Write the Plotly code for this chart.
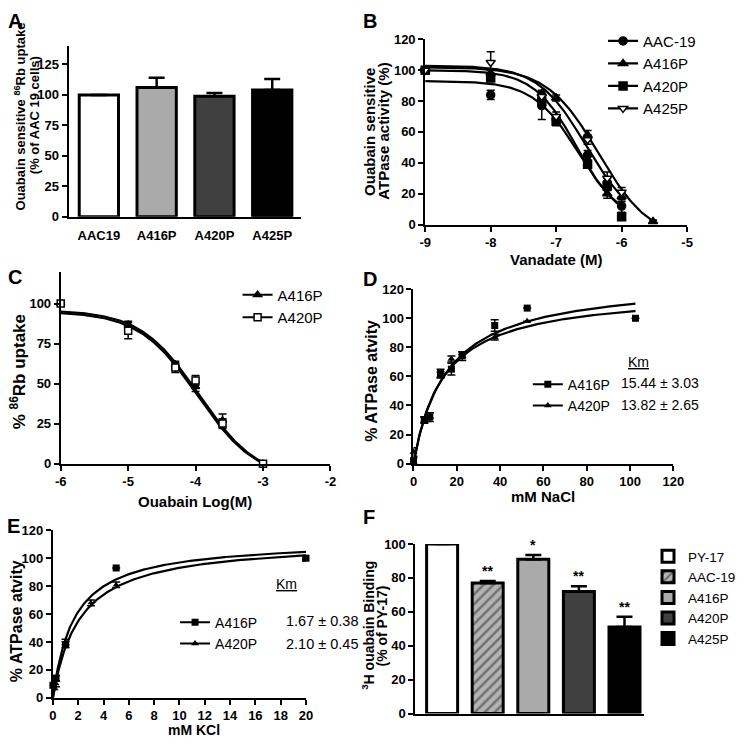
import numpy as np
import plotly.graph_objects as go

W, H = 745, 746
FONT = "Liberation Sans"

# ---------------- Panel A ----------------
a_cats = ["AAC19", "A416P", "A420P", "A425P"]
a_vals = [100, 106, 99, 104]
a_errs = [0, 8, 2.5, 9]
a_colors = ["#ffffff", "#aaaaaa", "#404040", "#000000"]
a_yticks = [0, 25, 50, 75, 100, 125]

# ---------------- Panel B ----------------
b_names = ["AAC-19", "A416P", "A420P", "A425P"]
b_symbols = ["circle", "triangle-up", "square", "triangle-down"]
b_fills = ["black", "black", "black", "white"]
b_logc_aac = [-9, -8, -7.22, -7, -6.52, -6.22, -6]
b_aac = [100, 84, 77, 68, 45, 27, 12]
b_aac_err = [0, 3, 9, 2, 3, 3, 4]
b_logc_416 = [-9, -8, -7.22, -7, -6.52, -6.22, -6, -5.52]
b_416 = [100, 98, 85, 82, 58, 20, 18, 2]
b_416_err = [0, 2, 2, 2, 3, 3, 3, 1]
b_logc_420 = [-9, -8, -7.22, -7, -6.52, -6.22, -6]
b_420 = [100, 95, 80, 67, 39, 25, 5]
b_420_err = [0, 2, 2, 3, 2, 3, 2]
b_logc_425 = [-9, -8, -7.22, -7, -6.52, -6.22, -6]
b_425 = [100, 105, 83, 70, 55, 30, 21]
b_425_err = [0, 7, 2, 3, 3, 4, 3]
# fitted sigmoid parameters (top, bottom, logIC50, hill, last x)
b_fit_top = [93, 102, 100, 103]
b_fit_bottom = [0, -10, 0, 0]
b_fit_logic50 = [-6.66, -6.35, -6.68, -6.55]
b_fit_hill = [1.26, 1.1, 1.3, 1.2]
b_fit_xmax = [-6.0, -5.52, -6.0, -6.0]
b_xticks = [-9, -8, -7, -6, -5]
b_yticks = [0, 20, 40, 60, 80, 100, 120]

# ---------------- Panel C ----------------
c_names = ["A416P", "A420P"]
c_logc = [-6, -5, -4.3, -4, -3.6, -3]
c_416 = [100, 87, 62, 48, 27, 0]
c_416_err = [0, 2, 2, 3, 4, 1]
c_420 = [100, 83, 60, 52, 25, 0]
c_420_err = [0, 5, 3, 3, 3, 1]
c_fit_top = [96, 95]
c_fit_bottom = [-10, -10]
c_fit_logic50 = [-3.95, -3.97]
c_fit_hill = [1.0, 1.0]
c_xticks = [-6, -5, -4, -3, -2]
c_yticks = [0, 25, 50, 75, 100]

# ---------------- Panel D ----------------
d_x_416 = [0, 5, 7.5, 12.5, 17.5, 22.5, 37.5, 52.5, 102.5]
d_416 = [2, 30, 32, 62, 65, 75, 95, 107, 100]
d_416_err = [2, 2, 3, 3, 4, 2, 4, 0, 0]
d_x_420 = [0, 5, 7.5, 12.5, 17.5, 22.5, 37.5, 52.5]
d_420 = [8, 30, 33, 61, 72, 73, 87, 98]
d_420_err = [3, 2, 2, 2, 2, 2, 2, 0]
d_km = [15.44, 13.82]
d_vmax = [126.6, 119.2]
d_km_text = ["15.44 ± 3.03", "13.82 ± 2.65"]
d_xticks = [0, 20, 40, 60, 80, 100, 120]
d_yticks = [0, 20, 40, 60, 80, 100, 120]

# ---------------- Panel E ----------------
e_x_416 = [0, 0.25, 1, 5, 20]
e_416 = [9, 14, 38, 93, 100]
e_416_err = [2, 2, 2, 0, 1]
e_x_420 = [0, 0.1, 0.25, 1, 3, 5, 20]
e_420 = [8, 8, 10, 40, 68, 81, 99]
e_420_err = [2, 2, 2, 2, 2, 2, 1]
e_km = [1.67, 2.10]
e_vmax = [113.2, 112.7]
e_km_text = ["1.67 ± 0.38", "2.10 ± 0.45"]
e_xticks = list(range(0, 21, 2))
e_yticks = [0, 20, 40, 60, 80, 100, 120]

# ---------------- Panel F ----------------
f_cats = ["PY-17", "AAC-19", "A416P", "A420P", "A425P"]
f_vals = [100, 77, 91, 72, 51]
f_errs = [0, 1.2, 2.5, 3, 6]
f_colors = ["#ffffff", "#b4b4b4", "#aaaaaa", "#404040", "#000000"]
f_patterns = ["", "/", "", "", ""]
f_stars = ["", "**", "*", "**", "**"]
f_yticks = [0, 20, 40, 60, 80, 100]


def px_x(p):
    return p / W


def px_y(p):
    return 1 - p / H


def dom_x(a, b):
    return [a / W, b / W]


def dom_y(top, bottom):
    return [1 - bottom / H, 1 - top / H]


tickfont = dict(family=FONT, size=13, color="black", weight="bold")


def axis(domain, rng, anchor, tickvals=None, ticktext=None, **kw):
    d = dict(domain=domain, range=rng, anchor=anchor, showline=True, linewidth=2,
             linecolor="black", ticks="outside", ticklen=5, tickwidth=2,
             tickcolor="black", tickfont=tickfont, showgrid=False, zeroline=False,
             fixedrange=True)
    if tickvals is not None:
        d["tickvals"] = tickvals
    if ticktext is not None:
        d["ticktext"] = ticktext
    d.update(kw)
    return d


def sigmoid(x, top, bottom, c, h):
    return bottom + (top - bottom) / (1 + 10 ** ((x - c) * h))


def mm(x, vmax, km):
    return vmax * x / (km + x)


fig = go.Figure()

# ---- A bars
fig.add_trace(go.Bar(
    x=list(range(len(a_cats))), y=a_vals, width=0.68,
    marker=dict(color=a_colors, line=dict(color="black", width=3)),
    error_y=dict(type="data", array=a_errs, arrayminus=[0] * len(a_errs), symmetric=False,
                 thickness=2.5, width=8, color="black"),
    xaxis="x", yaxis="y", showlegend=False))

# ---- B curves and points
b_xs = [b_logc_aac, b_logc_416, b_logc_420, b_logc_425]
b_ys = [b_aac, b_416, b_420, b_425]
b_es = [b_aac_err, b_416_err, b_420_err, b_425_err]
for i, name in enumerate(b_names):
    xx = np.linspace(-9, b_fit_xmax[i], 200)
    fig.add_trace(go.Scatter(x=xx, y=sigmoid(xx, b_fit_top[i], b_fit_bottom[i], b_fit_logic50[i], b_fit_hill[i]),
                             mode="lines", line=dict(color="black", width=2.2),
                             xaxis="x2", yaxis="y2", showlegend=False, cliponaxis=False))
for i, name in enumerate(b_names):
    fig.add_trace(go.Scatter(x=b_xs[i], y=b_ys[i], mode="markers",
                             marker=dict(symbol=b_symbols[i], size=8, color=b_fills[i],
                                         line=dict(color="black", width=1.5)),
                             error_y=dict(type="data", array=b_es[i], thickness=1.5, width=4, color="black"),
                             xaxis="x2", yaxis="y2", showlegend=False, cliponaxis=False))
    fig.add_trace(go.Scatter(x=[None], y=[None], mode="lines+markers", name=name,
                             marker=dict(symbol=b_symbols[i], size=8, color=b_fills[i],
                                         line=dict(color="black", width=1.5)),
                             line=dict(color="black", width=2.2),
                             xaxis="x2", yaxis="y2", legend="legend"))

# ---- C
c_ys = [c_416, c_420]
c_es = [c_416_err, c_420_err]
c_symbols = ["triangle-up", "square"]
c_fills = ["black", "white"]
for i in range(2):
    xx = np.linspace(-6, -3, 200)
    fig.add_trace(go.Scatter(x=xx, y=sigmoid(xx, c_fit_top[i], c_fit_bottom[i], c_fit_logic50[i], c_fit_hill[i]),
                             mode="lines", line=dict(color="black", width=2.2),
                             xaxis="x3", yaxis="y3", showlegend=False, cliponaxis=False))
for i, name in enumerate(c_names):
    fig.add_trace(go.Scatter(x=c_logc, y=c_ys[i], mode="markers",
                             marker=dict(symbol=c_symbols[i], size=7, color=c_fills[i],
                                         line=dict(color="black", width=1.5)),
                             error_y=dict(type="data", array=c_es[i], thickness=1.5, width=4, color="black"),
                             xaxis="x3", yaxis="y3", showlegend=False, cliponaxis=False))
    fig.add_trace(go.Scatter(x=[None], y=[None], mode="lines+markers", name=name,
                             marker=dict(symbol=c_symbols[i], size=7, color=c_fills[i],
                                         line=dict(color="black", width=1.5)),
                             line=dict(color="black", width=2),
                             xaxis="x3", yaxis="y3", legend="legend2"))

# ---- D
d_names = ["A416P", "A420P"]
d_xs = [d_x_416, d_x_420]
d_ys = [d_416, d_420]
d_es = [d_416_err, d_420_err]
de_symbols = ["square", "triangle-up"]
for i in range(2):
    xx = np.linspace(0, 102.5, 200)
    fig.add_trace(go.Scatter(x=xx, y=mm(xx, d_vmax[i], d_km[i]), mode="lines",
                             line=dict(color="black", width=2.2),
                             xaxis="x4", yaxis="y4", showlegend=False, cliponaxis=False))
for i, name in enumerate(d_names):
    fig.add_trace(go.Scatter(x=d_xs[i], y=d_ys[i], mode="markers",
                             marker=dict(symbol=de_symbols[i], size=7, color="black"),
                             error_y=dict(type="data", array=d_es[i], thickness=1.5, width=4, color="black"),
                             xaxis="x4", yaxis="y4", showlegend=False, cliponaxis=False))
    fig.add_trace(go.Scatter(x=[None], y=[None], mode="lines+markers", name=name,
                             marker=dict(symbol=de_symbols[i], size=7, color="black"),
                             line=dict(color="black", width=2),
                             xaxis="x4", yaxis="y4", legend="legend3"))

# ---- E
e_xs = [e_x_416, e_x_420]
e_ys = [e_416, e_420]
e_es = [e_416_err, e_420_err]
for i in range(2):
    xx = np.linspace(0, 20, 300)
    fig.add_trace(go.Scatter(x=xx, y=mm(xx, e_vmax[i], e_km[i]), mode="lines",
                             line=dict(color="black", width=2.2),
                             xaxis="x5", yaxis="y5", showlegend=False, cliponaxis=False))
for i, name in enumerate(d_names):
    fig.add_trace(go.Scatter(x=e_xs[i], y=e_ys[i], mode="markers",
                             marker=dict(symbol=de_symbols[i], size=7 if i == 0 else 6, color="black"),
                             error_y=dict(type="data", array=e_es[i], thickness=1.5, width=4, color="black"),
                             xaxis="x5", yaxis="y5", showlegend=False, cliponaxis=False))
    fig.add_trace(go.Scatter(x=[None], y=[None], mode="lines+markers", name=name,
                             marker=dict(symbol=de_symbols[i], size=7, color="black"),
                             line=dict(color="black", width=2),
                             xaxis="x5", yaxis="y5", legend="legend4"))

# ---- F bars
for i, cat in enumerate(f_cats):
    fig.add_trace(go.Bar(
        x=[i], y=[f_vals[i]], width=0.68, name=cat,
        marker=dict(color=f_colors[i], line=dict(color="black", width=3),
                    pattern=dict(shape=f_patterns[i], fgcolor="#2a2a2a", size=7, solidity=0.35)),
        error_y=dict(type="data", array=[f_errs[i]], arrayminus=[0], symmetric=False,
                     thickness=2.5, width=8, color="black"),
        xaxis="x6", yaxis="y6", legend="legend5"))

annotations = []


def ann(text, x, y, size=12, bold=True, angle=0, xanchor="center", yanchor="middle", xref="paper", yref="paper"):
    annotations.append(dict(text=text, x=x, y=y, xref=xref, yref=yref, showarrow=False,
                            textangle=angle, xanchor=xanchor, yanchor=yanchor,
                            font=dict(family=FONT, size=size, color="black",
                                      weight="bold" if bold else "normal")))


# panel letters
for lab, x, y in [("A", 9, 14), ("B", 372, 14), ("C", 9, 276), ("D", 372, 278), ("E", 8, 530), ("F", 371, 520)]:
    ann(lab, px_x(x), px_y(y), size=20)

# y titles
ann("Ouabain sensitive <sup>86</sup>Rb uptake", px_x(14), px_y(112), size=13, angle=-90)
ann("(% of AAC 19 cells)", px_x(29), px_y(110), size=13, angle=-90)
ann("Ouabain sensitive", px_x(372), px_y(128), size=15, angle=-90)
ann("ATPase activity (%)", px_x(386), px_y(127), size=15, angle=-90)
ann("% <sup>86</sup>Rb uptake", px_x(12), px_y(372), size=17, angle=-90)
ann("% ATPase atvity", px_x(374), px_y(381), size=16, angle=-90)
ann("% ATPase atvity", px_x(11), px_y(627), size=16, angle=-90)
ann("<sup>3</sup>H ouabain Binding", px_x(371), px_y(631), size=14, angle=-90)
ann("(% of PY-17)", px_x(385), px_y(632), size=14, angle=-90)

# x titles
ann("Vanadate (M)", px_x(563), px_y(258), size=15)
ann("Ouabain Log(M)", px_x(193), px_y(505), size=15)
ann("mM NaCl", px_x(550), px_y(500), size=15)
ann("mM KCl", px_x(192), px_y(738), size=14)

# Km blocks
ann("<u>Km</u>", px_x(647), px_y(362), size=14, bold=False)
for i, t in enumerate(d_km_text):
    ann(t, px_x(627), px_y(384 + 22 * i), size=14, bold=False, xanchor="left")
ann("<u>Km</u>", px_x(287), px_y(589), size=14, bold=False)
for i, t in enumerate(e_km_text):
    ann(t, px_x(285), px_y(627 + 23 * i), size=14.5, bold=False, xanchor="left")

# significance stars
for i, s in enumerate(f_stars):
    if s:
        ann(s, i, f_vals[i] + f_errs[i], size=14, xref="x6", yref="y6", yanchor="bottom")


def legend(x, y, size):
    return dict(x=px_x(x), y=px_y(y), xanchor="left", yanchor="top", bgcolor="rgba(0,0,0,0)",
                font=dict(family=FONT, size=size, color="black"), itemwidth=30,
                itemclick=False, itemdoubleclick=False)


fig.update_layout(
    width=W, height=H, margin=dict(l=0, r=0, t=0, b=0),
    paper_bgcolor="white", plot_bgcolor="white", barmode="overlay",
    showlegend=True,
    xaxis=axis(dom_x(64, 302), [-0.525, 3.5], "y", tickvals=list(range(4)), ticktext=a_cats,
               tickcolor="rgba(0,0,0,0)", ticklen=6),
    yaxis=axis(dom_y(40, 214), [0, 140], "x", tickvals=a_yticks),
    xaxis2=axis(dom_x(429, 697), [-9, -5], "y2", tickvals=b_xticks, ticktext=[str(v) for v in b_xticks]),
    yaxis2=axis(dom_y(33, 222), [0, 120], "x2", tickvals=b_yticks),
    xaxis3=axis(dom_x(56, 332), [-6, -2], "y3", tickvals=c_xticks, ticktext=[str(v) for v in c_xticks]),
    yaxis3=axis(dom_y(270, 466), [0, 120], "x3", tickvals=c_yticks),
    xaxis4=axis(dom_x(417, 683), [0, 120], "y4", tickvals=d_xticks),
    yaxis4=axis(dom_y(288, 466), [0, 120], "x4", tickvals=d_yticks),
    xaxis5=axis(dom_x(48, 307), [0, 20], "y5", tickvals=e_xticks),
    yaxis5=axis(dom_y(534, 705), [0, 120], "x5", tickvals=e_yticks),
    xaxis6=axis(dom_x(419, 653), [-0.585, 4.43], "y6", tickvals=[], ticks=""),
    yaxis6=axis(dom_y(548, 721), [0, 100], "x6", tickvals=f_yticks),
    legend=legend(611, 18, 15),
    legend2=legend(237, 277, 15),
    legend3=legend(534, 369, 14),
    legend4=legend(173, 612, 14),
    legend5=legend(657, 545, 13.5),
    annotations=annotations,
)

fig.write_html("out.html", config={"displayModeBar": False, "staticPlot": True},
               post_script="document.body.style.margin='0';document.body.style.overflow='hidden';")
